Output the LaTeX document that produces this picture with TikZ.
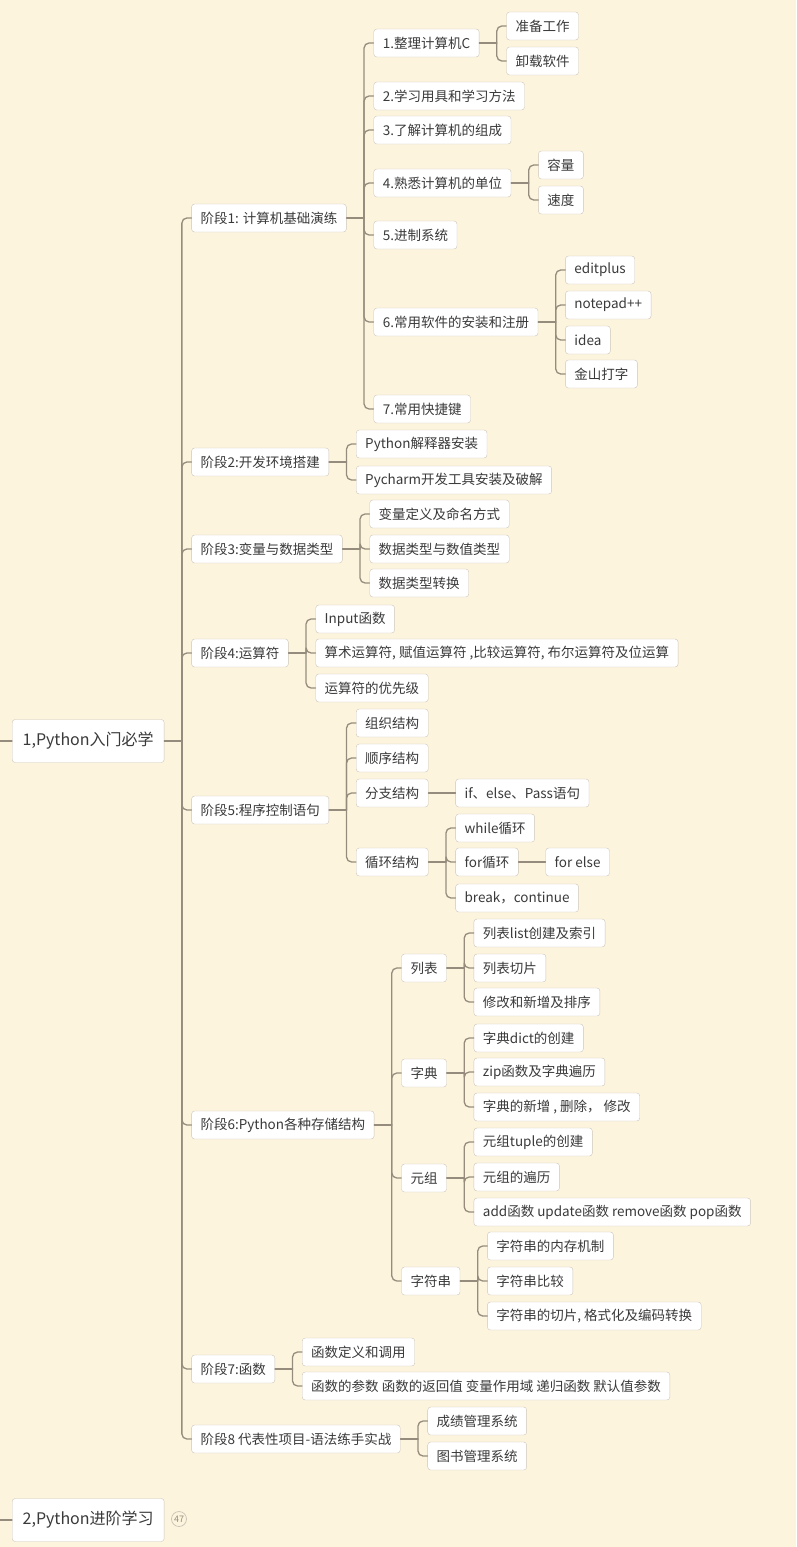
\documentclass[tikz,border=0pt]{standalone}
\usepackage{fontspec}
\setmainfont{Noto Sans CJK SC}
\definecolor{paper}{RGB}{253,244,222}
\definecolor{boxline}{RGB}{205,198,184}
\definecolor{linkgray}{RGB}{150,140,125}
\definecolor{ink}{RGB}{58,58,58}
\begin{document}
\begin{tikzpicture}[x=1pt, y=-1pt, line join=round, line cap=round,
	topic/.style={draw=boxline, fill=white, rounded corners=3pt, anchor=west, inner xsep=9pt, inner ysep=0pt, minimum height=28pt, text=ink, font=\fontsize{13.5}{15}\selectfont},
	root/.style={topic, minimum height=43pt, inner xsep=10.5pt, font=\fontsize{16}{19}\selectfont},
	link/.style={draw=linkgray, line width=1.3pt, rounded corners=5pt}]
	\def\kid#1#2#3#4{\path (#1.east) ++(27,0) coordinate (#2-at); \node[topic] (#2) at (#2-at |- 0,#3) {#4};}
	\def\fork#1#2{\draw[link] (#1.east) -- ++(17.5,0) coordinate (#1-j); \foreach \c in {#2} \draw[link] (#1-j) |- (\c.west);}
	\def\solo#1#2{\draw[link] (#1.east) -- (#2.west);}
	\fill[paper] (0,0) rectangle (796,1547);
	\useasboundingbox (0,0) rectangle (796,1547);
	\coordinate (edge1) at (0,741);
	\coordinate (edge2) at (0,1520);
	\node[root] (r1) at (12,741) {1,Python入门必学};
	\node[root] (r2) at (12,1520) {2,Python进阶学习};
	\node[circle, draw=boxline, line width=0.8pt, inner sep=0pt, minimum size=15pt, text=linkgray, font=\fontsize{9}{10}\selectfont] (cnt) at (179,1519) {47};
	\draw[link] (edge1) -- (r1.west);
	\draw[link] (edge2) -- (r2.west);
	% stages
	\kid{r1}{s1}{218}{阶段1: 计算机基础演练}
	\kid{r1}{s2}{462}{阶段2:开发环境搭建}
	\kid{r1}{s3}{549}{阶段3:变量与数据类型}
	\kid{r1}{s4}{653}{阶段4:运算符}
	\kid{r1}{s5}{810}{阶段5:程序控制语句}
	\kid{r1}{s6}{1125}{阶段6:Python各种存储结构}
	\kid{r1}{s7}{1369}{阶段7:函数}
	\kid{r1}{s8}{1439}{阶段8 代表性项目-语法练手实战}
	\fork{r1}{s1,s2,s3,s4,s5,s6,s7,s8}
	% stage 1
	\kid{s1}{a1}{43}{1.整理计算机C}
	\kid{s1}{a2}{96}{2.学习用具和学习方法}
	\kid{s1}{a3}{130}{3.了解计算机的组成}
	\kid{s1}{a4}{183}{4.熟悉计算机的单位}
	\kid{s1}{a5}{235}{5.进制系统}
	\kid{s1}{a6}{322}{6.常用软件的安装和注册}
	\kid{s1}{a7}{409}{7.常用快捷键}
	\fork{s1}{a1,a2,a3,a4,a5,a6,a7}
	\kid{a1}{a11}{26}{准备工作}
	\kid{a1}{a12}{61}{卸载软件}
	\fork{a1}{a11,a12}
	\kid{a4}{a41}{165}{容量}
	\kid{a4}{a42}{200}{速度}
	\fork{a4}{a41,a42}
	\kid{a6}{a61}{270}{editplus}
	\kid{a6}{a62}{305}{notepad++}
	\kid{a6}{a63}{340}{idea}
	\kid{a6}{a64}{374}{金山打字}
	\fork{a6}{a61,a62,a63,a64}
	% stage 2
	\kid{s2}{b1}{444}{Python解释器安装}
	\kid{s2}{b2}{480}{Pycharm开发工具安装及破解}
	\fork{s2}{b1,b2}
	% stage 3
	\kid{s3}{c1}{514}{变量定义及命名方式}
	\kid{s3}{c2}{549}{数据类型与数值类型}
	\kid{s3}{c3}{583}{数据类型转换}
	\fork{s3}{c1,c2,c3}
	% stage 4
	\kid{s4}{d1}{619}{Input函数}
	\kid{s4}{d2}{653}{算术运算符, 赋值运算符 ,比较运算符, 布尔运算符及位运算}
	\kid{s4}{d3}{688}{运算符的优先级}
	\fork{s4}{d1,d2,d3}
	% stage 5
	\kid{s5}{e1}{723}{组织结构}
	\kid{s5}{e2}{758}{顺序结构}
	\kid{s5}{e3}{793}{分支结构}
	\kid{s5}{e4}{862}{循环结构}
	\fork{s5}{e1,e2,e3,e4}
	\kid{e3}{e31}{793}{if、else、Pass语句}
	\solo{e3}{e31}
	\kid{e4}{e41}{828}{while循环}
	\kid{e4}{e42}{862}{for循环}
	\kid{e4}{e43}{898}{break，continue}
	\fork{e4}{e41,e42,e43}
	\kid{e42}{e421}{862}{for else}
	\solo{e42}{e421}
	% stage 6
	\kid{s6}{f1}{968}{列表}
	\kid{s6}{f2}{1073}{字典}
	\kid{s6}{f3}{1178}{元组}
	\kid{s6}{f4}{1281}{字符串}
	\fork{s6}{f1,f2,f3,f4}
	\kid{f1}{f11}{933}{列表list创建及索引}
	\kid{f1}{f12}{968}{列表切片}
	\kid{f1}{f13}{1002}{修改和新增及排序}
	\fork{f1}{f11,f12,f13}
	\kid{f2}{f21}{1038}{字典dict的创建}
	\kid{f2}{f22}{1072}{zip函数及字典遍历}
	\kid{f2}{f23}{1107}{字典的新增 , 删除， 修改}
	\fork{f2}{f21,f22,f23}
	\kid{f3}{f31}{1142}{元组tuple的创建}
	\kid{f3}{f32}{1177}{元组的遍历}
	\kid{f3}{f33}{1212}{add函数 update函数 remove函数 pop函数}
	\fork{f3}{f31,f32,f33}
	\kid{f4}{f41}{1246}{字符串的内存机制}
	\kid{f4}{f42}{1281}{字符串比较}
	\kid{f4}{f43}{1316}{字符串的切片, 格式化及编码转换}
	\fork{f4}{f41,f42,f43}
	% stage 7 and 8
	\kid{s7}{g1}{1352}{函数定义和调用}
	\kid{s7}{g2}{1386}{函数的参数 函数的返回值 变量作用域 递归函数 默认值参数}
	\fork{s7}{g1,g2}
	\kid{s8}{h1}{1421}{成绩管理系统}
	\kid{s8}{h2}{1456}{图书管理系统}
	\fork{s8}{h1,h2}
\end{tikzpicture}
\end{document}
